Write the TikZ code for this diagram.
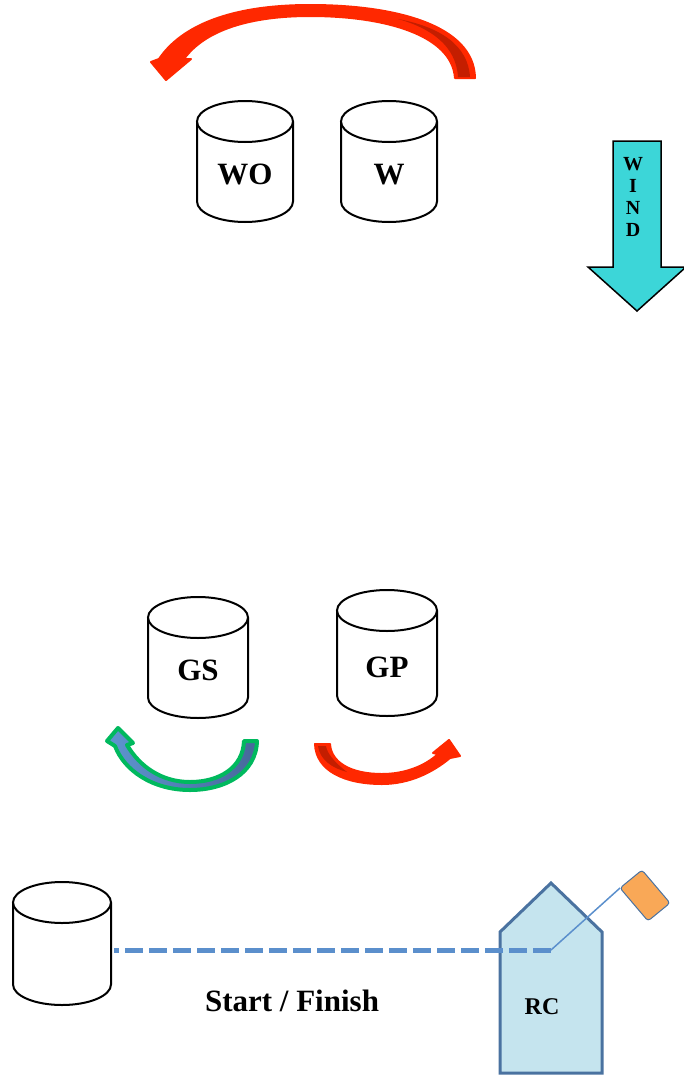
\documentclass[tikz,border=0pt]{standalone}
\usepackage{fontspec}
\setmainfont{Liberation Serif}
\definecolor{arrred}{RGB}{255,40,0}
\definecolor{darkred}{RGB}{196,30,0}
\definecolor{windcyan}{RGB}{60,214,216}
\definecolor{housefill}{RGB}{197,228,238}
\definecolor{housedraw}{RGB}{74,114,160}
\definecolor{dashblue}{RGB}{91,143,204}
\definecolor{flagorange}{RGB}{249,168,87}
\definecolor{arrgreen}{RGB}{0,185,94}
\definecolor{arrblueA}{RGB}{94,149,208}
\definecolor{arrblueB}{RGB}{70,104,154}
\tikzset{
  cyl/.style={draw=black, line width=2pt, fill=white},
  lbl/.style={font=\fontsize{31}{31}\selectfont\bfseries, inner sep=0pt, anchor=base},
  windlbl/.style={font=\fontsize{20}{20}\selectfont\bfseries, inner sep=0pt, anchor=base},
  redarrow/.style={draw=arrred, fill=arrred, line width=2pt, line join=round},
  darkpart/.style={fill=darkred},
  greenarrow/.style={draw=arrgreen, line width=4pt, line join=round, left color=arrblueA, right color=arrblueB},
  windarrow/.style={draw=black, line width=1.5pt, fill=windcyan, line join=miter},
  house/.style={draw=housedraw, line width=3pt, fill=housefill, line join=miter},
  startline/.style={draw=dashblue, line width=5pt, dash pattern=on 18pt off 6pt, dash phase=13pt},
  pole/.style={draw=dashblue, line width=1.5pt},
  flag/.style={draw=housedraw, line width=1pt, fill=flagorange, rounded corners=3pt}
}
\newcommand\mycylinder[4]{%
  \pgfmathsetmacro\mycx{(#1+#2)/2}%
  \pgfmathsetmacro\myrx{(#2-#1)/2}%
  \pgfmathsetmacro\myta{#3+20.5}%
  \pgfmathsetmacro\mytb{#4-20.5}%
  \draw[cyl] (#1,\myta) -- (#1,\mytb) arc[start angle=180,end angle=0,x radius=\myrx,y radius=20.5] -- (#2,\myta);
  \draw[cyl] (\mycx,\myta) ellipse[x radius=\myrx, y radius=20.5];
}
\begin{document}
\begin{tikzpicture}[x=1pt,y=-1pt]
\useasboundingbox (0,0) rectangle (683,1076);

% top red curved arrow
\draw[redarrow] (455,78) -- (475,78)
  .. controls (474,25) and (395,5) .. (310,5)
  .. controls (232,5) and (182,25) .. (159,59)
  -- (151,62) -- (166,80) -- (191,59) -- (184,59)
  .. controls (205,30) and (250,16) .. (310,16)
  .. controls (385,16) and (452,35) .. (455,78) -- cycle;
\fill[darkpart] (458,77) .. controls (456,45) and (430,28) .. (398,19)
  .. controls (440,27) and (468,45) .. (470,77) -- cycle;

% cylinders
\mycylinder{197}{293}{101}{222}
\mycylinder{341}{437}{101}{222}
\mycylinder{148}{248}{597}{718}
\mycylinder{337}{437}{590}{716}
\mycylinder{13}{111}{882}{1005}

\node[lbl] (wo) at (245,184) {WO};
\node[lbl] (w) at (389,184) {W};
\node[lbl] (gs) at (198,680) {GS};
\node[lbl] (gp) at (387,677) {GP};

% wind arrow
\draw[windarrow] (613,141) -- (661,141) -- (661,267) -- (686,267) -- (637,311) -- (588,267) -- (613,267) -- cycle;
\node[windlbl] (wind1) at (633,170) {W};
\node[windlbl] (wind2) at (633,192) {I};
\node[windlbl] (wind3) at (633,214) {N};
\node[windlbl] (wind4) at (633,236) {D};

% green arrow under GS
\draw[greenarrow] (244,741) -- (257,741)
  .. controls (256,774) and (224,790) .. (190,790)
  .. controls (152,790) and (124,770) .. (115,746)
  -- (107,741) -- (118,728) -- (133,743) -- (127,745)
  .. controls (140,767) and (162,782) .. (190,782)
  .. controls (219,782) and (243,768) .. (244,741) -- cycle;

% red arrow under GP
\draw[redarrow] (330,744) -- (315,744)
  .. controls (316,771) and (345,784) .. (382,784)
  .. controls (410,784) and (433,772) .. (450,758)
  -- (460,756) -- (449,740) -- (433,753) -- (438,754)
  .. controls (425,766) and (405,774) .. (382,774)
  .. controls (350,774) and (331,762) .. (330,744) -- cycle;
\fill[darkpart] (318,746) .. controls (320,760) and (332,768) .. (347,772)
  .. controls (334,762) and (327,753) .. (326,746) -- cycle;

% house RC
\draw[house] (500,1073) -- (500,932) -- (551,883) -- (602,932) -- (602,1073) -- cycle;
\node[lbl, font=\fontsize{24}{24}\selectfont\bfseries] (rc) at (542,1014) {RC};

% start/finish line
\coordinate (linestart) at (114,950);
\coordinate (polefoot) at (551,950);
\coordinate (poletop) at (620,888);
\draw[startline] (linestart) -- (polefoot);
\draw[pole] (polefoot) -- (poletop);
\draw[flag] (poletop) -- (642,870) -- (670,903) -- (648,921) -- cycle;

\node[lbl] (sf) at (292,1011) {Start / Finish};
\end{tikzpicture}
\end{document}
